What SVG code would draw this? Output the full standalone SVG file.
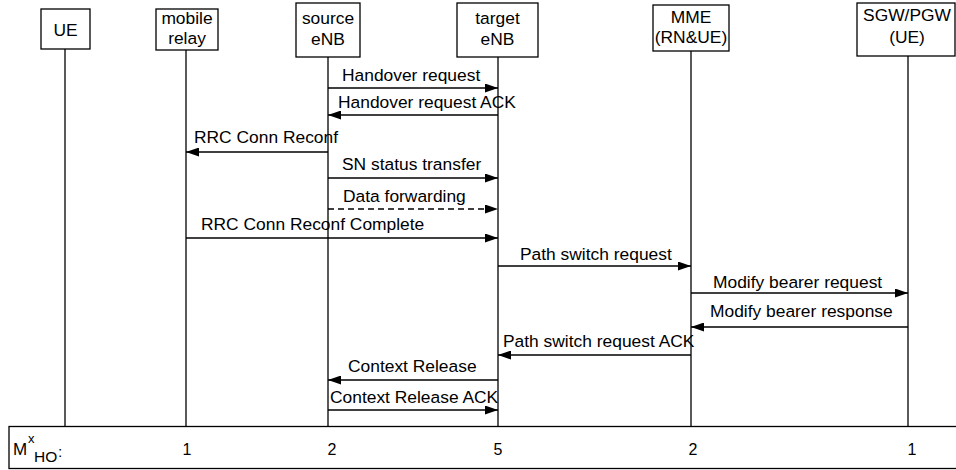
<svg xmlns="http://www.w3.org/2000/svg" width="956" height="470" viewBox="0 0 956 470">
<style>
text{font-family:"Liberation Sans",Arial,Helvetica,sans-serif;font-size:17.4px;fill:#000}
.box{fill:#fff;stroke:#000;stroke-width:1.3}
.life{stroke:#000;stroke-width:1.3;fill:none}
.msg{stroke:#000;stroke-width:1.3;fill:none;marker-end:url(#ah)}
.dash{stroke-dasharray:6 4}
.c{text-anchor:middle}
.num{font-size:16px;text-anchor:middle}
</style>
<defs>
<marker id="ah" viewBox="0 0 13 9" refX="13" refY="4.5" markerWidth="13" markerHeight="9" markerUnits="userSpaceOnUse" orient="auto">
<path d="M0,0 L13,4.5 L0,9 Z" fill="#000"/>
</marker>
</defs>
<rect width="956" height="470" fill="#fff"/>
<g id="lifelines">
<line class="life" x1="65" y1="49" x2="65" y2="426"/>
<line class="life" x1="186" y1="50" x2="186" y2="426"/>
<line class="life" x1="328" y1="57" x2="328" y2="426"/>
<line class="life" x1="498" y1="57" x2="498" y2="426"/>
<line class="life" x1="691" y1="51" x2="691" y2="426"/>
<line class="life" x1="908" y1="56" x2="908" y2="426"/>
</g>
<g id="node-ue">
<rect class="box" x="41" y="9" width="49" height="40"/>
<text class="c" x="65.5" y="35.5">UE</text>
</g>
<g id="node-relay">
<rect class="box" x="156" y="9" width="62" height="41"/>
<text class="c" x="187" y="24">mobile</text>
<text class="c" x="187" y="44">relay</text>
</g>
<g id="node-source">
<rect class="box" x="296" y="3" width="64" height="54"/>
<text class="c" x="328" y="24">source</text>
<text class="c" x="328" y="45">eNB</text>
</g>
<g id="node-target">
<rect class="box" x="457" y="3" width="81" height="54"/>
<text class="c" x="497.5" y="24">target</text>
<text class="c" x="497.5" y="45">eNB</text>
</g>
<g id="node-mme">
<rect class="box" x="653" y="5" width="76" height="46"/>
<text class="c" x="691" y="23">MME</text>
<text class="c" x="691" y="43">(RN&amp;UE)</text>
</g>
<g id="node-sgw">
<rect class="box" x="857" y="3" width="98" height="53"/>
<text class="c" x="907" y="21">SGW/PGW</text>
<text class="c" x="907" y="43">(UE)</text>
</g>
<g id="connectors">
<line class="msg" x1="328" y1="88" x2="498" y2="88"/>
<text x="342" y="81">Handover request</text>
<line class="msg" x1="498" y1="115" x2="328" y2="115"/>
<text x="338" y="108">Handover request ACK</text>
<line class="msg" x1="328" y1="152" x2="186" y2="152"/>
<text x="194" y="143">RRC Conn Reconf</text>
<line class="msg" x1="328" y1="178" x2="498" y2="178"/>
<text x="342" y="170">SN status transfer</text>
<line class="msg dash" x1="328" y1="209" x2="498" y2="209"/>
<text x="343" y="202">Data forwarding</text>
<line class="msg" x1="186" y1="238" x2="498" y2="238"/>
<text x="201" y="230">RRC Conn Reconf Complete</text>
<line class="msg" x1="498" y1="266" x2="691" y2="266"/>
<text x="520" y="260">Path switch request</text>
<line class="msg" x1="691" y1="293" x2="908" y2="293"/>
<text x="713" y="288">Modify bearer request</text>
<line class="msg" x1="908" y1="327" x2="691" y2="327"/>
<text x="710" y="317">Modify bearer response</text>
<line class="msg" x1="691" y1="355" x2="498" y2="355"/>
<text x="503" y="347">Path switch request ACK</text>
<line class="msg" x1="498" y1="380" x2="328" y2="380"/>
<text x="348" y="372">Context Release</text>
<line class="msg" x1="328" y1="410" x2="498" y2="410"/>
<text x="330" y="403">Context Release ACK</text>
</g>
<g id="table">
<rect x="9" y="426.5" width="960" height="42" fill="none" stroke="#000" stroke-width="1.3"/>
<text x="13" y="455" style="font-size:17px">M<tspan x="28" y="443" style="font-size:13px">x</tspan><tspan x="34" y="462" style="font-size:15.5px">HO</tspan><tspan x="58" y="457" style="font-size:15.5px">:</tspan></text>
<text class="num" x="187" y="455">1</text>
<text class="num" x="332" y="455">2</text>
<text class="num" x="498" y="455">5</text>
<text class="num" x="693" y="455">2</text>
<text class="num" x="912" y="455">1</text>
</g>
</svg>
